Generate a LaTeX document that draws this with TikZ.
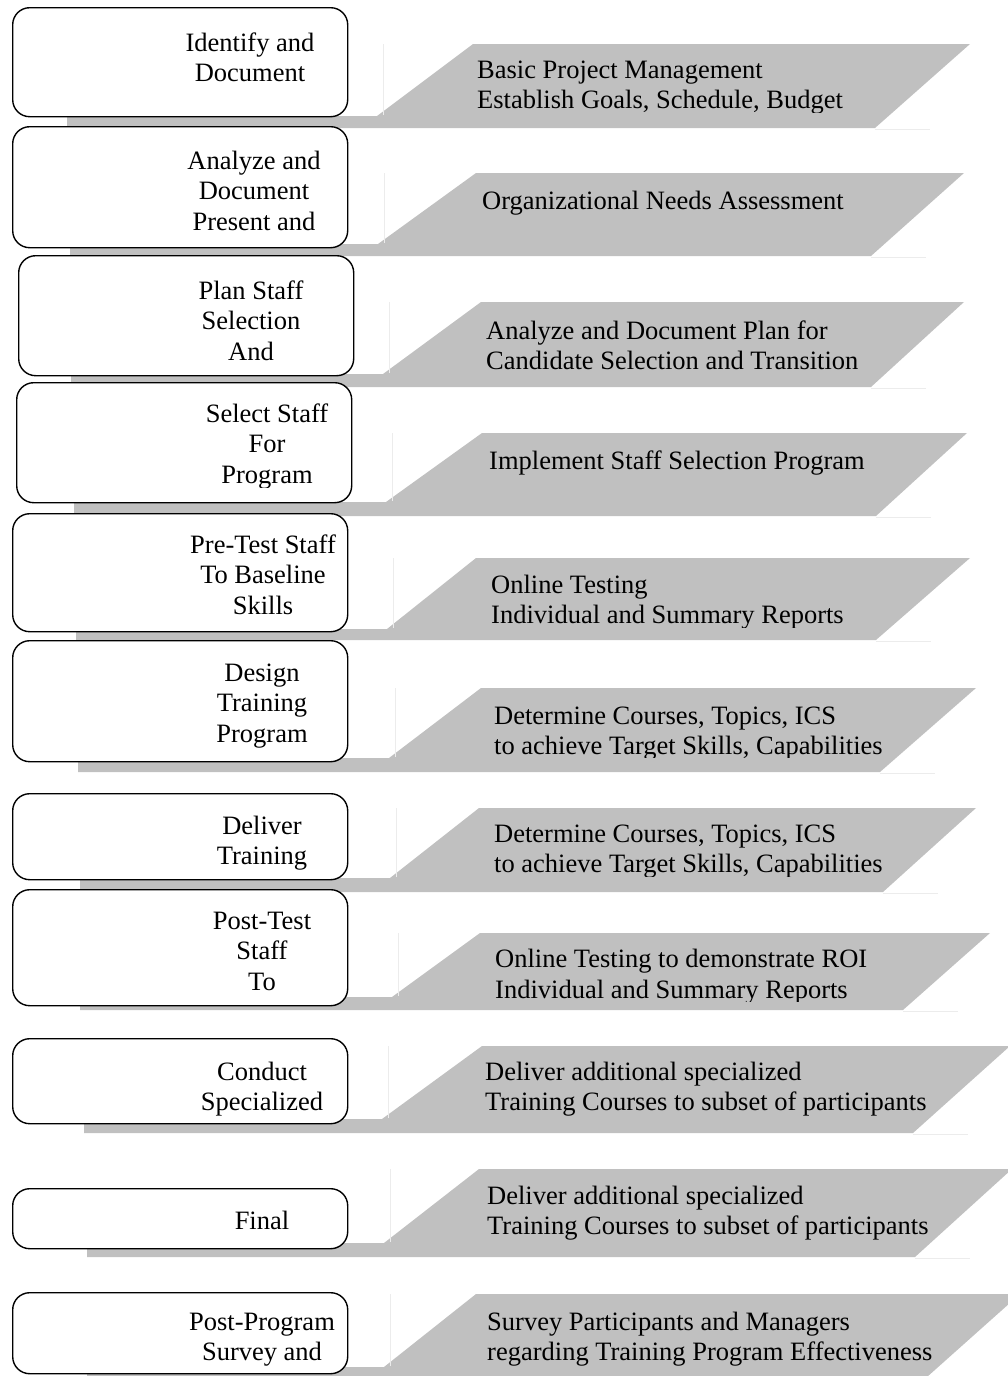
\documentclass[tikz,border=0pt]{standalone}
\usepackage{fontspec}
\setmainfont{Liberation Serif}
\definecolor{bandgray}{RGB}{192,192,192}
\definecolor{frameline}{RGB}{236,236,236}

% one grey band: bar under the step box joined to a slanted panel
% #1 bar left, #2 bar top, #3 bar bottom, #4 foot of left slant,
% #5 panel top, #6 panel top-left, #7 panel top-right, #8 panel bottom-right
\newcommand\bandrow[8]{%
  \fill[bandgray] (#1,#2) -- (#4,#2) -- (#6,#5) -- (#7,#5) -- (#8,#3) -- (#1,#3) -- cycle;
  \draw[frameline, line width=1pt] (#4+6,#5) -- (#4+6,#2-1);
  \draw[frameline, line width=1pt] (#8,#3+1) -- (#8+55,#3+1);
}

% multi-line texts are placed by the baseline of their last line
\tikzset{
  stepbox/.style={draw=black, line width=1.4pt, rounded corners=17pt, fill=white,
    anchor=north west, inner sep=0pt},
  steptext/.style={align=center, anchor=base, inner sep=0pt,
    font=\fontsize{26.5}{30.5}\selectfont},
  notetext/.style={align=left, anchor=base west, inner sep=0pt,
    font=\fontsize{26.5}{30.5}\selectfont},
}

\begin{document}
\begin{tikzpicture}[x=1pt, y=-1pt]
\useasboundingbox (0,0) rectangle (1008,1376);

% grey bands
\bandrow{67}{116}{128}{377}{44}{473}{970}{875}
\bandrow{70}{244}{256}{378}{173}{476}{964}{871}
\bandrow{71}{374}{387}{383}{302}{481}{964}{871}
\bandrow{74}{502}{516}{386}{433}{482}{967}{876}
\bandrow{76}{629}{640}{387}{558}{476}{970}{876}
\bandrow{78}{758}{772}{389}{688}{481}{976}{880}
\bandrow{80}{878}{892}{390}{808}{479}{976}{883}
\bandrow{80}{997}{1010}{392}{933}{480}{990}{903}
\bandrow{84}{1119}{1133}{382}{1046}{482}{1010}{913}
\bandrow{87}{1243}{1257}{384}{1169}{479}{1012}{915}
\bandrow{87}{1367}{1385}{384}{1294}{476}{1020}{918}

% step boxes
\node[stepbox, minimum width=335pt, minimum height=109pt] (b1) at (12,7) {};
\node[stepbox, minimum width=335pt, minimum height=121pt] (b2) at (12,126) {};
\node[stepbox, minimum width=335pt, minimum height=120pt] (b3) at (18,255) {};
\node[stepbox, minimum width=335pt, minimum height=120pt] (b4) at (16,382) {};
\node[stepbox, minimum width=335pt, minimum height=118pt] (b5) at (12,513) {};
\node[stepbox, minimum width=335pt, minimum height=121pt] (b6) at (12,640) {};
\node[stepbox, minimum width=335pt, minimum height=86pt] (b7) at (12,793) {};
\node[stepbox, minimum width=335pt, minimum height=116pt] (b8) at (12,889) {};
\node[stepbox, minimum width=335pt, minimum height=85pt] (b9) at (12,1038) {};
\node[stepbox, minimum width=335pt, minimum height=60pt] (b10) at (12,1188) {};
\node[stepbox, minimum width=335pt, minimum height=81pt] (b11) at (12,1292) {};

% step titles
\node[steptext] (s1) at (250,81.5) {Identify and\\Document};
\node[steptext] (s2) at (254,230) {Analyze and\\Document\\Present and};
\node[steptext] (s3) at (251,360) {Plan Staff\\Selection\\And};
\begin{scope}
  \clip (20,390) rectangle (348,487);
  \node[steptext] (s4) at (267,483) {Select Staff\\For\\Program};
\end{scope}
\node[steptext] (s5) at (263,614) {Pre-Test Staff\\To Baseline\\Skills};
\node[steptext] (s6) at (262,742) {Design\\Training\\Program};
\node[steptext] (s7) at (262,864.5) {Deliver\\Training};
\node[steptext] (s8) at (262,990) {Post-Test\\Staff\\To};
\node[steptext] (s9) at (262,1110.5) {Conduct\\Specialized};
\node[steptext] (s10) at (262,1229) {Final};
\node[steptext] (s11) at (262,1360.5) {Post-Program\\Survey and};

% panel notes
\begin{scope}
  \clip (380,40) rectangle (1008,112);
  \node[notetext] (n1) at (477,108.5) {Basic Project Management\\Establish Goals, Schedule, Budget};
\end{scope}
\node[notetext] (n2) at (482,209) {Organizational Needs Assessment};
\node[notetext] (n3) at (486,369.5) {Analyze and Document Plan for\\Candidate Selection and Transition};
\node[notetext] (n4) at (489,469) {Implement Staff Selection Program};
\begin{scope}
  \clip (380,550) rectangle (1008,627);
  \node[notetext] (n5) at (491,623.5) {Online Testing\\Individual and Summary Reports};
\end{scope}
\begin{scope}
  \clip (380,680) rectangle (1008,757);
  \node[notetext] (n6) at (494,754.5) {Determine Courses, Topics, ICS\\to achieve Target Skills, Capabilities};
\end{scope}
\begin{scope}
  \clip (380,800) rectangle (1008,876);
  \node[notetext] (n7) at (494,872.5) {Determine Courses, Topics, ICS\\to achieve Target Skills, Capabilities};
\end{scope}
\begin{scope}
  \clip (380,925) rectangle (1008,1001);
  \node[notetext] (n8) at (495,998) {Online Testing to demonstrate ROI\\Individual and Summary Reports};
\end{scope}
\node[notetext] (n9) at (485,1110.5) {Deliver additional specialized\\Training Courses to subset of participants};
\node[notetext] (n10) at (487,1234.5) {Deliver additional specialized\\Training Courses to subset of participants};
\node[notetext] (n11) at (487,1360.5) {Survey Participants and Managers\\regarding Training Program Effectiveness};
\end{tikzpicture}
\end{document}
